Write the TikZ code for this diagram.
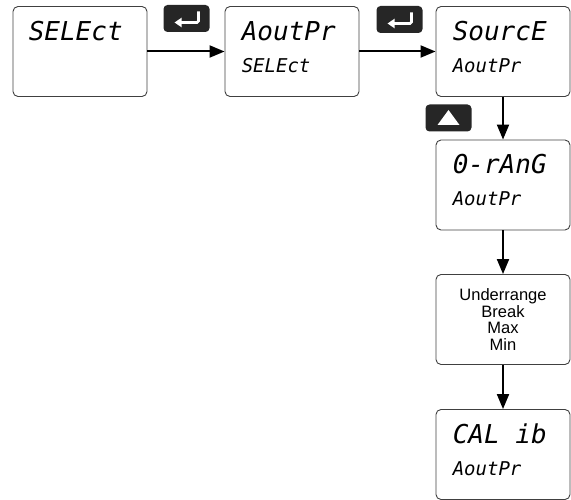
\documentclass[tikz,border=0pt]{standalone}
\usepackage{fontspec}
\setmainfont{Liberation Sans}
\newfontfamily\lcdfont{DejaVu Sans Mono}
\usetikzlibrary{arrows.meta,calc}

\begin{document}
\begin{tikzpicture}[
  x=1pt, y=-1pt,
  menubox/.style={draw=black!75, line width=0.9pt, rounded corners=5pt, minimum width=134pt, minimum height=90pt, inner sep=0pt},
  keybox/.style={fill=black!85, rounded corners=4pt, minimum width=46pt, minimum height=27pt, inner sep=0pt},
  topline/.style={anchor=base west, inner sep=0pt, font=\lcdfont\itshape\fontsize{26}{26}\selectfont},
  subline/.style={anchor=base west, inner sep=0pt, font=\lcdfont\itshape\fontsize{19}{19}\selectfont},
  flow/.style={line width=2pt, -{Triangle[length=15pt,width=12pt]}}
]
  \useasboundingbox (0,0) rectangle (571,500);

  \node[menubox] (select) at (80,51.5) {};
  \node[menubox] (aoutpr) at (292,51.5) {};
  \node[menubox] (source) at (503,51.5) {};
  \node[menubox] (orange) at (503,185) {};
  \node[menubox, align=center, font=\fontsize{16.5}{16.5}\selectfont] (modes) at (503,319.5) {Underrange\\Break\\Max\\Min};
  \node[menubox] (calib) at (503,454.5) {};

  % display texts
  \node[topline] (selectT) at ($(select.north west)+(16,34)$) {SELEct};
  \node[topline] (aoutprT) at ($(aoutpr.north west)+(17,34)$) {AoutPr};
  \node[subline] (aoutprS) at ($(aoutpr.north west)+(17,66)$) {SELEct};
  \node[topline] (sourceT) at ($(source.north west)+(17,34)$) {SourcE};
  \node[subline] (sourceS) at ($(source.north west)+(17,66)$) {AoutPr};
  \node[topline] (orangeT) at ($(orange.north west)+(17,34)$) {0-rAnG};
  \node[subline] (orangeS) at ($(orange.north west)+(17,66)$) {AoutPr};
  \node[topline] (calibT) at ($(calib.north west)+(17,34)$) {CAL ib};
  \node[subline] (calibS) at ($(calib.north west)+(17,66)$) {AoutPr};

  % keys
  \node[keybox] (enterA) at (186.5,18.5) {};
  \node[keybox] (enterB) at (399.5,19.5) {};
  \node[keybox] (upkey) at (448.5,118) {};
  \draw[white, line width=2.8pt, rounded corners=1.5pt, -{Triangle[length=7pt,width=9pt]}]
    ($(enterA.center)+(12,-7)$) -- ($(enterA.center)+(12,4)$) -- ($(enterA.center)+(-12,4)$);
  \draw[white, line width=2.8pt, rounded corners=1.5pt, -{Triangle[length=7pt,width=9pt]}]
    ($(enterB.center)+(12,-7)$) -- ($(enterB.center)+(12,4)$) -- ($(enterB.center)+(-12,4)$);
  \fill[white] ($(upkey.center)+(-11,7)$) -- ($(upkey.center)+(11,7)$) -- ($(upkey.center)+(0,-8)$) -- cycle;

  \draw[flow] (select) -- (aoutpr);
  \draw[flow] (aoutpr) -- (source);
  \draw[flow] (source) -- (orange);
  \draw[flow] (orange) -- (modes);
  \draw[flow] (modes) -- (calib);
\end{tikzpicture}
\end{document}
